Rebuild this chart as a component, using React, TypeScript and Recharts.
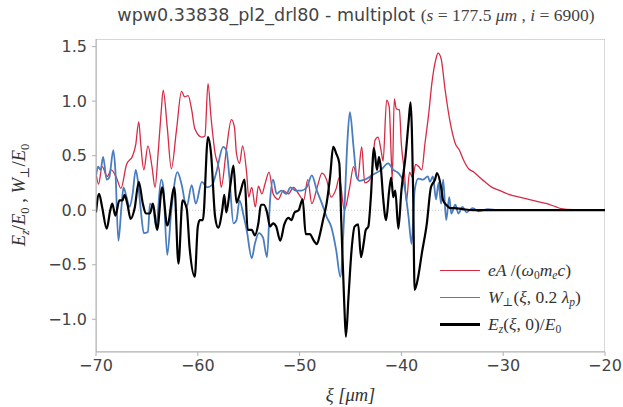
import React from 'react';
import {
  LineChart,
  Line,
  XAxis,
  YAxis,
  ReferenceLine,
  ReferenceArea,
} from 'recharts';

// eA/(w0 me c) – red
const eaXi = [
  -70, -69.75, -69.4, -68.9, -68.5, -68.0, -67.55, -67.0, -66.4, -66.1, -65.8, -65.6, -65.3, -64.9,
  -64.5, -64.2, -63.9, -63.6, -63.4, -63.0, -62.6, -62.1, -61.6, -61.3, -60.95, -60.6, -60.3, -59.6,
  -59.3, -59.0, -58.7, -58.3, -57.9, -57.7, -57.2, -56.7, -56.4, -56.2, -55.9, -55.6, -55.2, -55.0,
  -54.7, -54.35, -54.05, -53.7, -53.4, -53.0, -52.6, -52.1, -51.6, -51.1, -50.6, -50.1, -49.6, -49.2,
  -48.8, -48.3, -47.8, -47.35, -46.9, -46.4, -46.1, -45.6, -45.1, -44.7, -44.3, -43.9, -43.6, -43.2,
  -42.9, -42.6, -42.3, -42.0, -41.8, -41.45, -41.2, -41.0, -40.9, -40.7, -40.5, -40.2, -40.0, -39.7,
  -39.5, -39.2, -38.9, -38.6, -38.3, -38.0, -37.7, -37.3, -37.0, -36.6, -36.4, -36.1, -35.7, -35.2,
  -34.7, -34.3, -33.9, -33.4, -32.9, -32.4, -31.8, -31.1, -30.3, -29.3, -28.4, -27.1, -25.7, -24.8,
  -24.3, -23.1, -20,
];
const eaVal = [
  0.34, 0.24, 0.4, 0.31, 0.37, 0.3, 0.2, 0.42, 0.5, 0.6, 0.81, 0.6, 0.37, 0.59,
  0.4, 0.21, 0.52, 0.9, 1.1, 0.76, 0.38, 0.73, 1.09, 1.04, 1.05, 0.92, 0.75, 0.67,
  0.68, 1.16, 0.85, 0.52, 0.37, 0.21, 0.55, 0.83, 0.76, 0.52, 0.43, 0.59, 0.34, 0.12,
  0.21, 0.03, 0.22, 0.15, 0.24, 0.35, 0.15, 0.1, 0.18, 0.15, 0.21, 0.15, 0.09, 0.28,
  0.06, 0.2, 0.34, 0.28, 0.12, 0.2, 0.3, 0.0, 0.2, 0.4, 0.28, 0.58, 0.25, 0.27,
  0.35, 0.64, 0.67, 0.55, 0.45, 1.01, 0.95, 0.49, 0.28, 1.02, 0.93, 0.92, 0.6, 0.34,
  0.08, 0.35, 0.3, 0.42, 0.4, 0.37, 0.6, 0.9, 1.17, 1.39, 1.44, 1.39, 1.1, 0.8,
  0.61, 0.55, 0.46, 0.38, 0.35, 0.31, 0.26, 0.21, 0.18, 0.14, 0.12, 0.09, 0.06, 0.03,
  0.015, 0.005, 0,
];

// W_perp(xi, 0.2 lambda_p) – blue
const wXi = [
  -70, -69.8, -69.55, -69.3, -68.95, -68.7, -68.3, -68.1, -67.8, -67.5, -67.3, -67.0, -66.7, -66.4,
  -66.1, -65.9, -65.6, -65.3, -64.9, -64.7, -64.4, -64.1, -63.6, -63.4, -63.0, -62.6, -62.0, -61.6,
  -61.1, -60.6, -60.2, -59.6, -59.1, -58.6, -58.2, -57.5, -57.2, -56.9, -56.5, -56.2, -55.9, -55.5,
  -55.2, -54.7, -54.4, -54.0, -53.6, -53.2, -52.9, -52.6, -52.25, -51.8, -51.3, -50.9, -50.4, -49.8,
  -49.3, -48.8, -48.3, -47.8, -47.35, -46.9, -46.4, -46.0, -45.6, -45.3, -45.06, -44.7, -44.4, -44.1,
  -43.6, -42.9, -42.0, -41.3, -40.8, -40.3, -39.8, -39.3, -39.0, -38.7, -38.35, -37.9, -37.4, -37.2,
  -36.9, -36.6, -36.35, -36.1, -35.9, -35.6, -35.3, -35.1, -34.7, -34.4, -34.0, -33.6, -33.0, -32.4,
  -31.5, -30.5, -20,
];
const wVal = [
  0.31, 0.4, 0.37, 0.49, 0.28, 0.3, 0.55, 0.37, -0.28, 0.03, 0.21, 0.12, 0.03, 0.15,
  0.37, 0.28, 0.0, -0.21, -0.2, 0.06, 0.03, -0.15, 0.28, 0.22, -0.41, 0.0, 0.35, 0.24,
  0.03, 0.23, 0.06, 0.26, 0.21, 0.23, 0.34, 0.58, 0.55, 0.31, -0.12, -0.09, 0.09, -0.05,
  -0.18, -0.44, -0.31, -0.21, -0.25, -0.43, 0.09, 0.28, 0.15, 0.18, 0.15, 0.21, 0.18, 0.18,
  0.21, 0.32, 0.18, 0.06, -0.06, -0.15, -0.37, -0.61, 0.0, 0.64, 0.9, 0.58, 0.31, 0.27,
  0.28, 0.32, 0.37, 0.43, 0.37, 0.34, 0.26, -0.06, -0.31, 0.18, 0.29, 0.28, 0.31, 0.26,
  0.31, 0.1, 0.25, 0.06, 0.28, -0.09, 0.12, -0.03, 0.05, -0.03, 0.03, -0.02, 0.02, -0.01,
  0.01, 0, 0,
];

// Ez(xi, 0)/E0 – black
const ezXi = [
  -70, -69.7, -69.4, -68.95, -68.6, -68.4, -68.1, -67.7, -67.4, -67.2, -66.9, -66.6, -66.2, -65.8,
  -65.4, -65.1, -64.7, -64.4, -64.0, -63.5, -63.0, -62.3, -61.9, -61.5, -61.1, -60.8, -60.3, -60.0,
  -59.8, -59.5, -59.0, -58.7, -58.3, -58.0, -57.6, -57.4, -57.2, -56.8, -56.5, -56.2, -55.9, -55.4,
  -55.1, -54.7, -54.4, -54.05, -53.8, -53.5, -53.2, -52.9, -52.6, -52.3, -51.9, -51.5, -51.1, -50.8,
  -50.5, -50.1, -49.7, -49.4, -49.0, -48.6, -48.3, -48.0, -47.7, -47.35, -47.0, -46.7, -46.4, -46.1,
  -45.9, -45.6, -45.45, -45.2, -44.9, -44.6, -44.25, -43.97, -43.7, -43.5, -43.25, -43.0, -42.7, -42.4,
  -42.2, -42.0, -41.8, -41.5, -41.2, -41.0, -40.8, -40.6, -40.3, -40.0, -39.6, -39.3, -39.1, -38.85,
  -38.7, -38.35, -38.0, -37.5, -37.1, -36.7, -36.5, -36.1, -35.9, -35.6, -35.2, -34.8, -34.0, -33.0,
  -20,
];
const ezVal = [
  -0.02, 0.15, 0.03, -0.17, 0.0, 0.06, -0.05, 0.09, 0.09, 0.14, 0.05, -0.08, 0.02, 0.26,
  0.06, -0.03, -0.03, 0.06, -0.18, 0.21, -0.14, 0.21, -0.49, 0.09, 0.02, -0.35, -0.61, -0.15,
  -0.09, -0.09, 0.67, 0.52, -0.06, -0.16, 0.0, 0.14, -0.02, 0.23, 0.41, 0.07, 0.14, 0.28,
  -0.18, -0.18, -0.23, -0.12, 0.05, 0.05, -0.02, -0.15, -0.12, -0.15, -0.28, -0.13, -0.07, -0.09,
  -0.02, 0.0, 0.1, -0.22, -0.22, -0.28, -0.31, -0.22, -0.09, 0.06, 0.31, 0.58, 0.52, 0.43,
  -0.12, -0.89, -1.16, -0.8, -0.37, -0.15, -0.13, -0.43, -0.3, -0.18, -0.15, 0.12, 0.57, 0.37,
  0.49, 0.37, 0.12, -0.09, 0.18, 0.3, 0.12, 0.18, -0.17, 0.18, 0.49, 0.8, 0.99, 0.18,
  -0.73, -0.61, -0.4, -0.12, 0.21, 0.28, 0.34, 0.21, 0.09, 0.05, 0.02, 0.02, 0.01, 0.0,
  0,
];

const xTicks = [-70, -60, -50, -40, -30, -20];
const yTicks = [-1.0, -0.5, 0.0, 0.5, 1.0, 1.5];

const toPoints = (xs: number[], ys: number[]) => xs.map((x, i) => ({ xi: x, v: ys[i] }));

const eaData = toPoints(eaXi, eaVal);
const wData = toPoints(wXi, wVal);
const ezData = toPoints(ezXi, ezVal);

const RED = '#d62a45';
const BLUE = '#4a7dbf';
const BLACK = '#000000';

const SANS = '"DejaVu Sans", sans-serif';
const SERIF = '"Liberation Serif", "DejaVu Serif", serif';

const minus = (s: string) => s.replace('-', '\u2212');

const legendRows = [
  {
    color: RED,
    width: 1.3,
    label: (
      <>
        <i>eA</i> /(<i>ω</i><sub>0</sub><i>m</i><sub><i>e</i></sub><i>c</i>)
      </>
    ),
  },
  {
    color: BLUE,
    width: 1.8,
    label: (
      <>
        <i>W</i><sub>⊥</sub>(<i>ξ</i>, 0.2 <i>λ</i><sub><i>p</i></sub>)
      </>
    ),
  },
  {
    color: BLACK,
    width: 2.2,
    label: (
      <>
        <i>E</i><sub><i>z</i></sub>(<i>ξ</i>, 0)/<i>E</i><sub>0</sub>
      </>
    ),
  },
];

const subStyle = `.lg sub{font-size:11.5px;vertical-align:-3px;line-height:0}`;

const YLabel = () => (
  <text
    x={25}
    y={195}
    transform="rotate(-90, 25, 195)"
    textAnchor="middle"
    fontFamily={SERIF}
    fontSize={18.5}
    fill="#333"
  >
    <tspan fontStyle="italic">E</tspan>
    <tspan fontStyle="italic" fontSize={12.5} dy={4}>z</tspan>
    <tspan dy={-4}>/</tspan>
    <tspan fontStyle="italic">E</tspan>
    <tspan fontSize={12.5} dy={4}>0</tspan>
    <tspan dy={-4}> , </tspan>
    <tspan fontStyle="italic">W</tspan>
    <tspan fontSize={12.5} dy={4}>⊥</tspan>
    <tspan dy={-4}>/</tspan>
    <tspan fontStyle="italic">E</tspan>
    <tspan fontSize={12.5} dy={4}>0</tspan>
  </text>
);

const App: React.FC = () => {
  return (
    <div
      style={{
        position: 'absolute',
        left: 0,
        top: 0,
        width: 623,
        height: 407,
        background: '#fff',
        overflow: 'hidden',
      }}
    >
      <style>{subStyle}</style>
      {/* Title */}
      <div
        style={{
          position: 'absolute',
          left: 100,
          width: 512,
          top: 7,
          textAlign: 'center',
          whiteSpace: 'nowrap',
          lineHeight: 1,
          color: '#444',
        }}
      >
        <span style={{ fontFamily: SANS, fontSize: 17.5 }}>wpw0.33838_pl2_drl80 - multiplot </span>
        <span style={{ fontFamily: SERIF, fontSize: 17.5 }}>
          (<i>s</i> = 177.5 <i>μm</i> , <i>i</i> = 6900)
        </span>
      </div>

      <LineChart
        width={623}
        height={407}
        margin={{ top: 39, right: 18, left: 36, bottom: 25 }}
      >
        <ReferenceArea
          x1={-70}
          x2={-20}
          y1={-1.3}
          y2={1.57}
          fill="none"
          stroke="#b0b0b0"
          strokeWidth={1}
          ifOverflow="hidden"
        />
        <ReferenceLine y={0} stroke="#c8c8c8" strokeDasharray="1 2" strokeWidth={1} />
        <XAxis
          dataKey="xi"
          type="number"
          domain={[-70, -20]}
          ticks={xTicks}
          allowDataOverflow
          height={30}
          tickSize={4}
          tickMargin={4}
          tickFormatter={(v: number) => minus(String(v))}
          tick={{ fill: '#444', fontSize: 16, fontFamily: SANS }}
          axisLine={{ stroke: '#b0b0b0' }}
          tickLine={{ stroke: '#b0b0b0' }}
          label={{
            value: 'ξ [μm]',
            position: 'insideBottom',
            offset: -19,
            style: { fontFamily: SERIF, fontStyle: 'italic', fontSize: 18.5, fill: '#333' },
          }}
        />
        <YAxis
          type="number"
          domain={[-1.3, 1.57]}
          ticks={yTicks}
          allowDataOverflow
          width={60}
          tickSize={4}
          tickMargin={5}
          tickFormatter={(v: number) => minus(v.toFixed(1))}
          tick={{ fill: '#444', fontSize: 16, fontFamily: SANS }}
          axisLine={{ stroke: '#b0b0b0' }}
          tickLine={{ stroke: '#b0b0b0' }}
          label={{ content: () => <YLabel /> }}
        />
        <Line
          data={eaData}
          dataKey="v"
          name="eA"
          stroke={RED}
          strokeWidth={1.3}
          dot={false}
          type="monotone"
          isAnimationActive={false}
        />
        <Line
          data={wData}
          dataKey="v"
          name="W"
          stroke={BLUE}
          strokeWidth={1.8}
          dot={false}
          type="monotone"
          isAnimationActive={false}
        />
        <Line
          data={ezData}
          dataKey="v"
          name="Ez"
          stroke={BLACK}
          strokeWidth={2.2}
          dot={false}
          type="monotone"
          isAnimationActive={false}
        />
      </LineChart>

      {/* Legend */}
      <div
        className="lg"
        style={{
          position: 'absolute',
          left: 440,
          top: 257,
          fontFamily: SERIF,
          fontSize: 17.5,
          color: '#333',
        }}
      >
        {legendRows.map((r, i) => (
          <div key={i} style={{ display: 'flex', alignItems: 'center', height: 27 }}>
            <div style={{ width: 40, height: r.width, background: r.color, marginRight: 8 }} />
            <span style={{ lineHeight: 1, whiteSpace: 'nowrap' }}>{r.label}</span>
          </div>
        ))}
      </div>
    </div>
  );
};

export default App;
